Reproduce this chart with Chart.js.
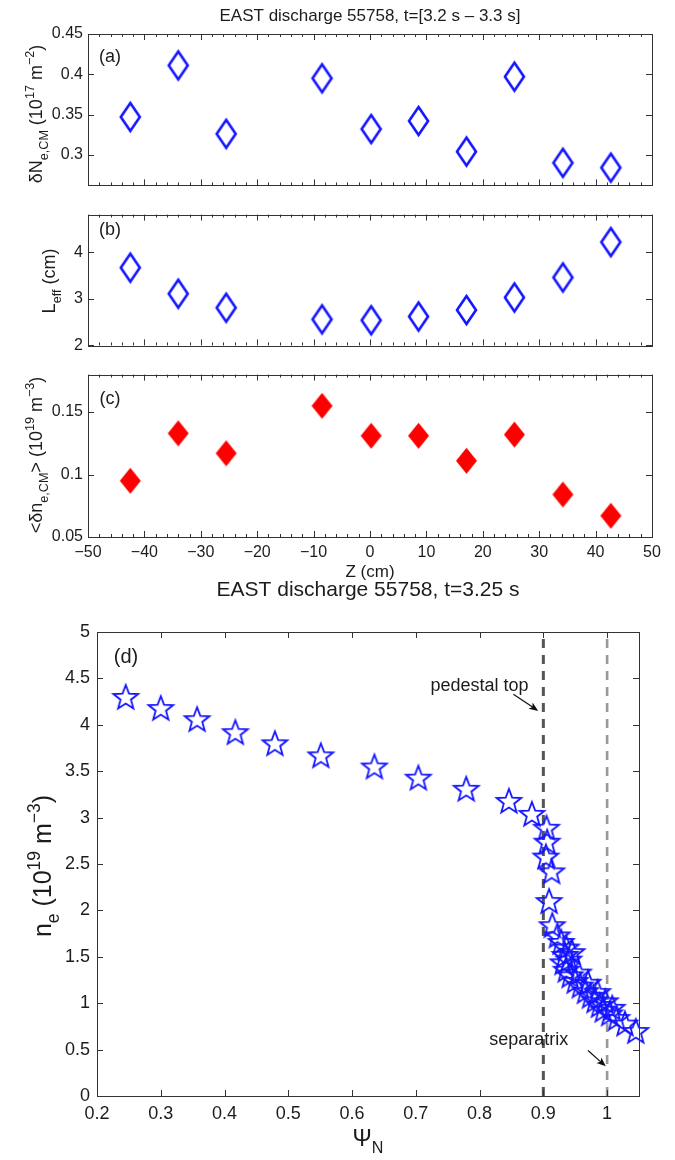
<!DOCTYPE html>
<html>
<head>
<meta charset="utf-8">
<script src="https://cdn.jsdelivr.net/npm/chart.js@4.4.1/dist/chart.umd.min.js"></script>
<style>
  html, body { margin: 0; padding: 0; background: #fff; }
  #wrap { position: relative; width: 675px; height: 1160px; }
  #wrap canvas { position: absolute; left: 0; }
</style>
</head>
<body>
<div id="wrap">
  <canvas id="panelA" width="675" height="200" style="top:0px"></canvas>
  <canvas id="panelB" width="675" height="160" style="top:200px"></canvas>
  <canvas id="panelC" width="675" height="232" style="top:360px"></canvas>
  <canvas id="panelD" width="675" height="585" style="top:575px"></canvas>
</div>
<script>
// --- data, panels (a)-(c): vertical position of the channels
const zPos    = [-42.5, -34, -25.5, -8.5, 0.2, 8.6, 17.1, 25.6, 34.2, 42.7];
const dNeCM   = [0.347, 0.411, 0.326, 0.395, 0.332, 0.342, 0.304, 0.397, 0.290, 0.284];
const lEff    = [3.67, 3.11, 2.81, 2.56, 2.54, 2.62, 2.76, 3.03, 3.46, 4.22];
const dneAvg  = [0.095, 0.133, 0.117, 0.155, 0.131, 0.131, 0.111, 0.132, 0.084, 0.067];

const zTicks     = [-50, -40, -30, -20, -10, 0, 10, 20, 30, 40, 50];
const dNeTicks   = [0.3, 0.35, 0.4, 0.45];
const lEffTicks  = [2, 3, 4];
const dneTicks   = [0.05, 0.1, 0.15];

// --- data, panel (d): density profile
const psiN = [0.245, 0.300, 0.357, 0.417, 0.479, 0.551, 0.635, 0.704, 0.779, 0.846,
              0.882, 0.905, 0.906, 0.904, 0.913, 0.909, 0.914, 0.922, 0.928, 0.936,
              0.945, 0.934, 0.940, 0.931, 0.936, 0.942, 0.955, 0.950, 0.958, 0.966,
              0.970, 0.974, 0.981, 0.985, 0.988, 0.994, 0.997, 1.004, 1.008, 1.015,
              1.028, 1.045];
const neProf = [4.30, 4.18, 4.06, 3.92, 3.80, 3.67, 3.55, 3.43, 3.31, 3.18,
                3.04, 2.89, 2.74, 2.58, 2.42, 2.10, 1.84, 1.73, 1.66, 1.60,
                1.55, 1.52, 1.47, 1.44, 1.36, 1.30, 1.33, 1.24, 1.19, 1.13,
                1.22, 1.08, 1.03, 1.12, 0.98, 0.93, 1.02, 0.89, 0.95, 0.84,
                0.78, 0.70];
const psiTicks = [0.2, 0.3, 0.4, 0.5, 0.6, 0.7, 0.8, 0.9, 1];
const neTicks  = [0, 0.5, 1, 1.5, 2, 2.5, 3, 3.5, 4, 4.5, 5];
const pedestalTop = 0.9;
const separatrix  = 1.0;

const FONT = '"Liberation Sans", Arial, Helvetica, sans-serif';
const INK = '#1c1c1c';
const AXIS = '#333';
const BLUE = '#1414ff';

// markers drawn once into small canvases
function diamondMarker(w, h, stroke, fill, lw) {
  const c = document.createElement('canvas');
  c.width = Math.ceil(w + lw * 2 + 2); c.height = Math.ceil(h + lw * 2 + 2);
  const g = c.getContext('2d');
  const cx = c.width / 2, cy = c.height / 2;
  g.beginPath();
  g.moveTo(cx, cy - h / 2); g.lineTo(cx + w / 2, cy);
  g.lineTo(cx, cy + h / 2); g.lineTo(cx - w / 2, cy);
  g.closePath();
  if (fill) { g.fillStyle = fill; g.fill(); }
  if (stroke) { g.strokeStyle = stroke; g.lineWidth = lw; g.lineJoin = 'miter'; g.stroke(); }
  return c;
}
function starMarker(r, ratio, stroke, lw) {
  const c = document.createElement('canvas');
  c.width = c.height = Math.ceil(2 * r + lw * 2 + 4);
  const g = c.getContext('2d');
  const cx = c.width / 2, cy = c.height / 2 + 1;
  g.beginPath();
  for (let i = 0; i < 10; i++) {
    const a = -Math.PI / 2 + i * Math.PI / 5;
    const rr = i % 2 ? r * ratio : r;
    g.lineTo(cx + rr * Math.cos(a), cy + rr * Math.sin(a));
  }
  g.closePath();
  g.strokeStyle = stroke; g.lineWidth = lw; g.stroke();
  return c;
}
const openDiamond = diamondMarker(19, 28, BLUE, null, 2.6);
const redDiamond = diamondMarker(21, 26, null, '#ff0000', 0);
const openStar = starMarker(13, 0.42, BLUE, 1.8);

// text with sub/superscripts: parts = [text, 0 | -1 (sub) | 1 (sup)]
function richText(ctx, parts, x, y, size, rotate) {
  ctx.save();
  ctx.translate(x, y);
  if (rotate) ctx.rotate(-Math.PI / 2);
  ctx.fillStyle = INK;
  ctx.textAlign = 'left';
  ctx.textBaseline = 'alphabetic';
  const fs = p => (p[1] ? size * 0.7 : size);
  let w = 0;
  parts.forEach(p => { ctx.font = fs(p) + 'px ' + FONT; w += ctx.measureText(p[0]).width; });
  let cx = -w / 2;
  parts.forEach(p => {
    ctx.font = fs(p) + 'px ' + FONT;
    const dy = p[1] === -1 ? size * 0.32 : p[1] === 1 ? -size * 0.45 : 0;
    ctx.fillText(p[0], cx, dy);
    cx += ctx.measureText(p[0]).width;
  });
  ctx.restore();
}

const fmt = v => (v < 0 ? '\u2212' : '') + String(+Math.abs(v).toFixed(3));

// MATLAB style box with inward ticks, plus texts and arrows
function boxPlugin(o) {
  return {
    id: 'box' + o.id,
    afterDatasetsDraw(chart) {
      const { ctx, chartArea: a, scales: { x, y } } = chart;
      ctx.save();
      ctx.strokeStyle = AXIS;
      ctx.lineWidth = 1;
      ctx.beginPath();
      const xt = (v, len) => {
        const px = Math.round(x.getPixelForValue(v)) + 0.5;
        ctx.moveTo(px, a.bottom); ctx.lineTo(px, a.bottom - len);
        ctx.moveTo(px, a.top); ctx.lineTo(px, a.top + len);
      };
      o.xTicks.forEach(v => xt(v, 6));
      if (o.xMinor) {
        for (let v = o.xMin; v <= o.xMax; v += o.xMinor) {
          if (!o.xTicks.includes(v)) xt(v, 3);
        }
      }
      o.yTicks.forEach(v => {
        const py = Math.round(y.getPixelForValue(v)) + 0.5;
        ctx.moveTo(a.left, py); ctx.lineTo(a.left + 6, py);
        ctx.moveTo(a.right, py); ctx.lineTo(a.right - 6, py);
      });
      ctx.stroke();
      ctx.strokeRect(Math.round(a.left) + 0.5, Math.round(a.top) + 0.5,
        Math.round(a.right - a.left), Math.round(a.bottom - a.top));

      (o.arrows || []).forEach(ar => {
        const x0 = x.getPixelForValue(ar[0]), y0 = y.getPixelForValue(ar[1]);
        const x1 = x.getPixelForValue(ar[2]), y1 = y.getPixelForValue(ar[3]);
        const ang = Math.atan2(y1 - y0, x1 - x0);
        ctx.strokeStyle = '#111'; ctx.fillStyle = '#111'; ctx.lineWidth = 1.2;
        ctx.beginPath(); ctx.moveTo(x0, y0);
        ctx.lineTo(x1 - 6 * Math.cos(ang), y1 - 6 * Math.sin(ang)); ctx.stroke();
        ctx.beginPath();
        ctx.moveTo(x1, y1);
        ctx.lineTo(x1 - 10 * Math.cos(ang - 0.38), y1 - 10 * Math.sin(ang - 0.38));
        ctx.lineTo(x1 - 7 * Math.cos(ang), y1 - 7 * Math.sin(ang));
        ctx.lineTo(x1 - 10 * Math.cos(ang + 0.38), y1 - 10 * Math.sin(ang + 0.38));
        ctx.closePath(); ctx.fill();
      });
      (o.notes || []).forEach(n => {
        ctx.font = n.size + 'px ' + FONT;
        ctx.fillStyle = INK;
        ctx.textAlign = 'center';
        ctx.textBaseline = 'middle';
        ctx.fillText(n.text, x.getPixelForValue(n.x), y.getPixelForValue(n.y));
      });
      (o.texts || []).forEach(t => richText(ctx, t.parts, t.x, t.y - o.canvasTop, t.size, t.rot));
      ctx.restore();
    }
  };
}

function makePanel(o) {
  return new Chart(document.getElementById(o.id), {
    type: 'scatter',
    data: { datasets: o.datasets },
    options: {
      responsive: false,
      animation: false,
      events: [],
      layout: { padding: { top: o.top, right: o.right, left: 0, bottom: 0 } },
      plugins: { legend: { display: false }, tooltip: { enabled: false } },
      scales: {
        x: {
          type: 'linear', min: o.xMin, max: o.xMax,
          grid: { display: false, drawTicks: false }, border: { display: false },
          ticks: { display: o.xLabels, padding: o.xPad || 0, color: INK, autoSkip: false, maxRotation: 0,
                   font: { family: FONT, size: o.tickSize }, callback: fmt },
          afterBuildTicks: s => { s.ticks = o.xTicks.map(v => ({ value: v })); },
          afterFit: s => { s.height = o.xH; }
        },
        y: {
          type: 'linear', min: o.yMin, max: o.yMax,
          grid: { display: false, drawTicks: false }, border: { display: false },
          ticks: { padding: o.yPad, color: INK, autoSkip: false,
                   font: { family: FONT, size: o.tickSize }, callback: fmt },
          afterBuildTicks: s => { s.ticks = o.yTicks.map(v => ({ value: v })); },
          afterFit: s => { s.width = o.left; }
        }
      }
    },
    plugins: [boxPlugin(o)]
  });
}

const pts = (xs, ys) => xs.map((v, i) => ({ x: v, y: ys[i] }));
const markerSet = (data, style) => ({ data, pointStyle: style, pointRadius: 10, showLine: false, clip: false });

makePanel({
  id: 'panelA', canvasTop: 0, top: 34, xH: 5, left: 88, right: 23,
  xMin: -50, xMax: 50, xTicks: zTicks, xMinor: 2, xLabels: false,
  yMin: 0.262, yMax: 0.45, yTicks: dNeTicks, yPad: 5, tickSize: 16,
  datasets: [markerSet(pts(zPos, dNeCM), openDiamond)],
  texts: [
    { parts: [['EAST discharge 55758, t=[3.2 s \u2013 3.3 s]', 0]], x: 370, y: 21, size: 17 },
    { parts: [['(a)', 0]], x: 110, y: 62, size: 18 },
    { parts: [['\u03b4N', 0], ['e,CM', -1], [' (10', 0], ['17', 1], [' m', 0], ['\u22122', 1], [')', 0]],
      x: 42, y: 114, size: 18, rot: true }
  ]
});

makePanel({
  id: 'panelB', canvasTop: 200, top: 7, xH: 5, left: 88, right: 23,
  xMin: -50, xMax: 50, xTicks: zTicks, xMinor: 2, xLabels: false,
  yMin: 2, yMax: 4.81, yTicks: lEffTicks, yPad: 5, tickSize: 16,
  datasets: [markerSet(pts(zPos, lEff), openDiamond)],
  texts: [
    { parts: [['(b)', 0]], x: 110, y: 235, size: 18 },
    { parts: [['L', 0], ['eff', -1], [' (cm)', 0]], x: 55, y: 281, size: 18, rot: true }
  ]
});

makePanel({
  id: 'panelC', canvasTop: 360, top: 13, xH: 55, left: 88, right: 23,
  xMin: -50, xMax: 50, xTicks: zTicks, xMinor: 2, xLabels: true, xPad: 6,
  yMin: 0.05, yMax: 0.18, yTicks: dneTicks, yPad: 5, tickSize: 16,
  datasets: [markerSet(pts(zPos, dneAvg), redDiamond)],
  texts: [
    { parts: [['(c)', 0]], x: 110, y: 404, size: 18 },
    { parts: [['Z (cm)', 0]], x: 370, y: 577, size: 17 },
    { parts: [['<\u03b4n', 0], ['e,CM', -1], ['> (10', 0], ['19', 1], [' m', 0], ['\u22123', 1], [')', 0]],
      x: 42, y: 455, size: 18, rot: true }
  ]
});

makePanel({
  id: 'panelD', canvasTop: 575, top: 57, xH: 64, left: 97, right: 36,
  xMin: 0.2, xMax: 1.05, xTicks: psiTicks, xLabels: true, xPad: 7,
  yMin: 0, yMax: 5, yTicks: neTicks, yPad: 7, tickSize: 18,
  datasets: [
    markerSet(pts(psiN, neProf), openStar),
    { type: 'line', data: [{ x: pedestalTop, y: 0 }, { x: pedestalTop, y: 5 }], borderColor: '#555',
      borderWidth: 3, borderDash: [9, 7], pointRadius: 0, fill: false },
    { type: 'line', data: [{ x: separatrix, y: 0 }, { x: separatrix, y: 5 }], borderColor: '#9a9a9a',
      borderWidth: 2.6, borderDash: [9, 7], pointRadius: 0, fill: false }
  ],
  notes: [
    { text: 'pedestal top', x: 0.80, y: 4.42, size: 18 },
    { text: 'separatrix', x: 0.877, y: 0.6, size: 18 }
  ],
  arrows: [[0.853, 4.33, 0.892, 4.15], [0.970, 0.49, 0.998, 0.32]],
  texts: [
    { parts: [['EAST discharge 55758, t=3.25 s', 0]], x: 368, y: 596, size: 21 },
    { parts: [['(d)', 0]], x: 126, y: 663, size: 20 },
    { parts: [['\u03a8', 0], ['N', -1]], x: 368, y: 1146, size: 23 },
    { parts: [['n', 0], ['e', -1], [' (10', 0], ['19', 1], [' m', 0], ['\u22123', 1], [')', 0]],
      x: 51, y: 866, size: 25, rot: true }
  ]
});
</script>
</body>
</html>
